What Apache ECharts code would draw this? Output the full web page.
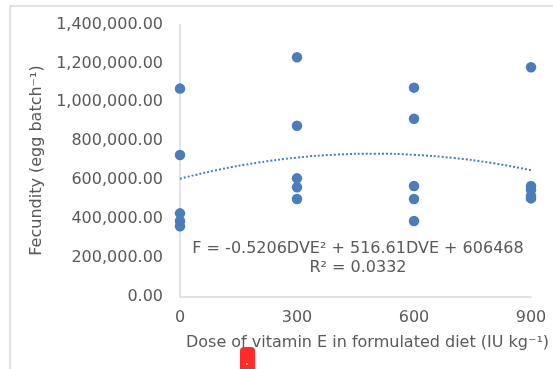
<!DOCTYPE html>
<html>
<head>
<meta charset="utf-8">
<script src="https://cdn.jsdelivr.net/npm/echarts@6/dist/echarts.min.js"></script>
<style>
  html, body { margin: 0; padding: 0; background: #fff; }
  #chart { width: 553px; height: 369px; }
</style>
</head>
<body>
<div id="chart"></div>
<script>
// 维生素E剂量 (IU kg-1) 与繁殖力
var doses = [0, 300, 600, 900]
var fecundity0 = [1070000, 728000, 428000, 389000, 362000]
var fecundity300 = [1231000, 879000, 608000, 562000, 502000]
var fecundity600 = [1075000, 915000, 569000, 502000, 389000]
var fecundity900 = [1180000, 569000, 549000, 517000, 505000]
// 趋势线
var trendX = [0, 100, 200, 300, 400, 500, 600, 700, 800, 900]
var trendY = [606000, 653000, 689000, 715000, 730000, 735000, 729000, 713000, 687000, 650000]
var yTicks = [0, 200000, 400000, 600000, 800000, 1000000, 1200000, 1400000]

var groups = [fecundity0, fecundity300, fecundity600, fecundity900]
var points = []
groups.forEach(function (vals, i) {
  vals.forEach(function (v) { points.push([doses[i], v]) })
})
var trend = trendX.map(function (x, i) { return [x, trendY[i]] })

var blue = '#4A7EBB'
var gray = '#595959'
var font = '"DejaVu Sans", sans-serif'

var chart = echarts.init(document.getElementById('chart'))
chart.setOption({
  animation: false,
  textStyle: { fontFamily: font },
  grid: { left: 180, right: 22, top: 24.5, bottom: 72.5 },
  xAxis: {
    type: 'value',
    min: 0,
    max: 900,
    interval: 300,
    name: 'Dose of vitamin E in formulated diet (IU kg⁻¹)',
    nameLocation: 'middle',
    nameGap: 38,
    nameTextStyle: { color: gray, fontSize: 16, fontFamily: font, padding: [0, 0, 0, 24] },
    axisLine: { lineStyle: { color: '#d9d9d9', width: 1.5 } },
    axisTick: { show: false },
    splitLine: { show: false },
    axisLabel: { color: gray, fontSize: 16, fontFamily: font, margin: 13 }
  },
  yAxis: {
    type: 'value',
    min: yTicks[0],
    max: yTicks[yTicks.length - 1],
    interval: 200000,
    name: 'Fecundity (egg batch⁻¹)',
    nameLocation: 'middle',
    nameGap: 128,
    nameTextStyle: { color: gray, fontSize: 16, fontFamily: font },
    axisLine: { show: true, lineStyle: { color: '#d9d9d9', width: 1.5 } },
    axisTick: { show: false },
    splitLine: { show: false },
    axisLabel: {
      color: gray, fontSize: 16, fontFamily: font, margin: 17,
      formatter: function (v) {
        return v.toLocaleString('en-US', { minimumFractionDigits: 2, maximumFractionDigits: 2 })
      }
    }
  },
  series: [
    {
      type: 'line',
      data: trend,
      smooth: true,
      symbol: 'none',
      lineStyle: { color: blue, width: 2, type: [2, 2] },
      z: 1
    },
    {
      type: 'scatter',
      data: points,
      symbolSize: 10.5,
      itemStyle: { color: blue, opacity: 1 },
      z: 2
    }
  ],
  graphic: [
    {
      type: 'rect',
      shape: { x: 10, y: 6, width: 560, height: 380 },
      style: { fill: 'none', stroke: '#d9d9d9', lineWidth: 1.5 },
      silent: true
    },
    {
      type: 'text',
      x: 358,
      y: 258,
      style: {
        text: 'F = -0.5206DVE² + 516.61DVE + 606468\nR² = 0.0332',
        align: 'center',
        verticalAlign: 'middle',
        fill: gray,
        font: '16px "DejaVu Sans", sans-serif',
        lineHeight: 19
      }
    },
    {
      type: 'rect',
      shape: { x: 240, y: 347, width: 15, height: 25, r: [4, 4, 0, 0] },
      style: { fill: '#ff2a2a' }
    },
    {
      type: 'circle',
      shape: { cx: 247, cy: 364, r: 1 },
      style: { fill: '#fff' }
    }
  ]
})
</script>
</body>
</html>
